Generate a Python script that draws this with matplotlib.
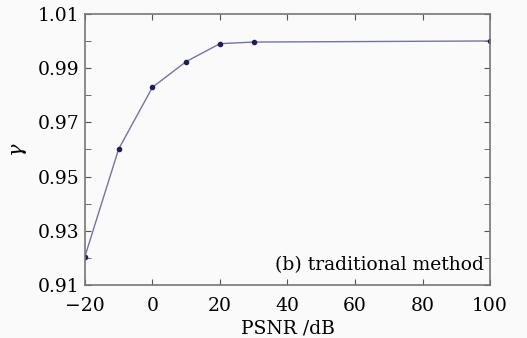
import matplotlib
matplotlib.use("Agg")
import matplotlib.pyplot as plt
from matplotlib.ticker import MultipleLocator

# values
psnr = [-20, -10, 0, 10, 20, 30, 100]
gamma = [0.9204, 0.9601, 0.9829, 0.9924, 0.9990, 0.9996, 1.0000]
xticks = [-20, 0, 20, 40, 60, 80, 100]
yticks = [0.91, 0.93, 0.95, 0.97, 0.99, 1.01]

plt.rcParams["font.family"] = ["DejaVu Serif"]
plt.rcParams["mathtext.fontset"] = "dejavuserif"

fig = plt.figure(figsize=(5.27, 3.38), dpi=100, facecolor="#fafafa")
ax = fig.add_axes([0.161, 0.157, 0.769, 0.802])
ax.set_facecolor("#fafafa")

ax.plot(psnr, gamma, color="#7474a4", linewidth=1.0, marker="o",
        markersize=3, markerfacecolor="#1e1e58", markeredgecolor="#1e1e58")

ax.set_xlim(-20, 100)
ax.set_ylim(0.91, 1.01)
ax.set_xticks(xticks)
ax.set_xticklabels(["\u221220" if t < 0 else str(t) for t in xticks])
ax.set_yticks(yticks)
ax.set_yticklabels([f"{t:.2f}" for t in yticks])
ax.yaxis.set_minor_locator(MultipleLocator(0.01))

ax.tick_params(which="both", direction="in", top=True, right=True,
               labelsize=13.5, color="#555555")
ax.tick_params(axis="x", pad=9)
ax.tick_params(axis="y", pad=4)
ax.tick_params(which="major", length=4)
ax.tick_params(which="minor", length=4)
for s in ax.spines.values():
    s.set_color("#777777")
    s.set_linewidth(1.2)

ax.set_xlabel("PSNR /dB", fontsize=13.5, labelpad=3)
ax.set_ylabel(r"$\gamma$", fontsize=15, labelpad=6)

ax.text(0.985, 0.04, "(b) traditional method", transform=ax.transAxes,
        ha="right", va="bottom", fontsize=13.5)

fig.savefig("out.png", dpi=100, facecolor=fig.get_facecolor())
